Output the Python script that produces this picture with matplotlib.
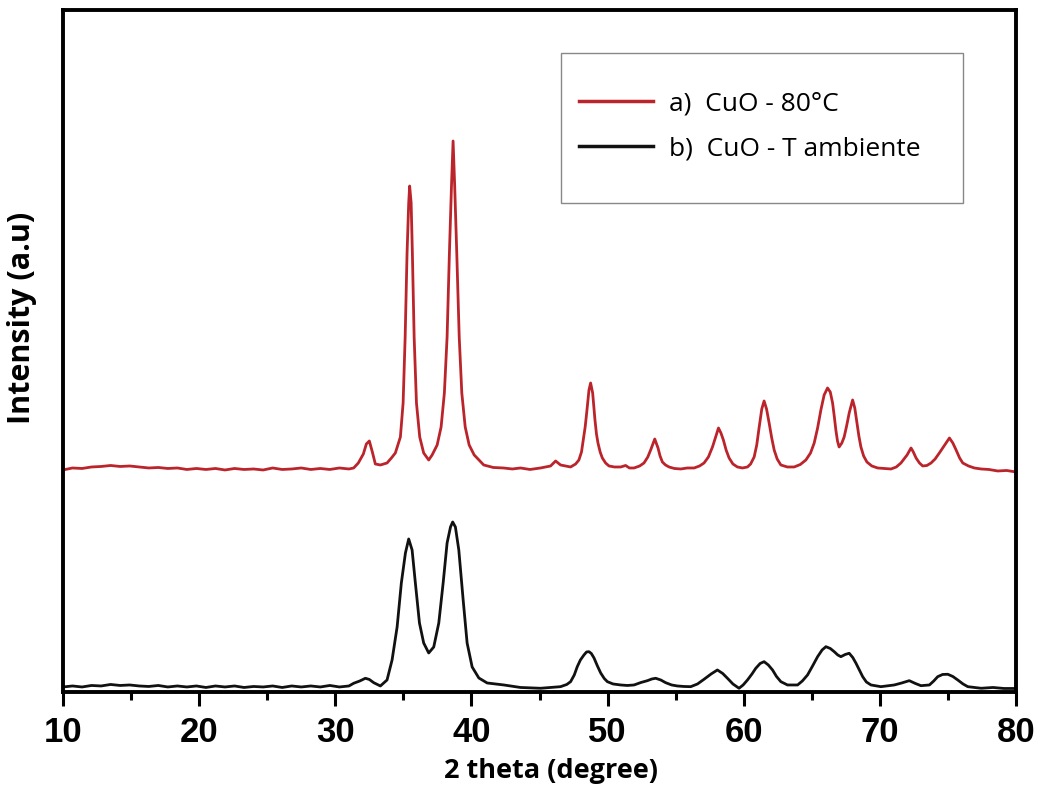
import numpy as np
import matplotlib.pyplot as plt
from matplotlib.patches import Rectangle

# XRD patterns, values (intensity in arbitrary units)
# flat background 10-31 deg
base_theta = [10.0, 10.7, 11.4, 12.1, 12.8, 13.5, 14.2, 14.9, 15.6, 16.3, 17.0, 17.7, 18.4,
              19.1, 19.8, 20.5, 21.2, 21.9, 22.6, 23.3, 24.0, 24.7, 25.4, 26.1, 26.8, 27.5,
              28.2, 28.9, 29.6, 30.3, 31.0]
base_a = [222, 224, 223.5, 225, 225.5, 226.5, 225.5, 226, 225, 224, 224.5, 223.5, 224,
          222.5, 223.5, 222.5, 223.5, 222, 223.5, 222.5, 223, 222, 224, 222.5, 223, 224,
          222.5, 223.5, 222.5, 224, 223]
base_b = [5, 6, 5, 6.5, 6, 7.5, 6.5, 7, 6, 5.5, 6.5, 5, 6,
          5, 6, 4.5, 6, 5, 6, 4.5, 5.5, 5, 6, 4.5, 6, 5,
          6, 5, 6.5, 5, 6]

# a) CuO - 80°C, 31-80 deg
peak_theta_a = [31.35, 31.69, 32.06, 32.28, 32.5, 32.72, 32.94, 33.31, 33.8, 34.12, 34.41, 34.78,
                34.98, 35.13, 35.27, 35.39, 35.46, 35.57, 35.66, 35.79, 35.96, 36.2, 36.49, 36.86,
                37.11, 37.48, 37.77, 38.01, 38.21, 38.38, 38.53, 38.65, 38.77, 38.92, 39.1, 39.29,
                39.54, 39.83, 40.2, 40.9, 41.6, 42.35, 43.0, 43.6, 44.3, 45.07, 45.81, 46.18,
                46.54, 47.28, 47.65, 47.89, 48.08, 48.21, 48.35, 48.46, 48.63, 48.75, 48.9, 49.07,
                49.18, 49.29, 49.45, 49.61, 49.85, 50.1, 50.5, 50.96, 51.32, 51.6, 51.94, 52.35,
                52.67, 52.95, 53.16, 53.46, 53.7, 53.85, 54.02, 54.25, 54.51, 54.9, 55.37, 55.85,
                56.35, 56.75, 57.08, 57.4, 57.7, 57.95, 58.14, 58.32, 58.5, 58.7, 58.92, 59.2,
                59.53, 59.9, 60.27, 60.5, 60.76, 60.95, 61.13, 61.32, 61.49, 61.67, 61.86, 62.05,
                62.23, 62.45, 62.72, 63.2, 63.7, 64.15, 64.56, 64.9, 65.17, 65.42, 65.66, 65.9,
                66.15, 66.35, 66.52, 66.65, 66.76, 66.88, 67.0, 67.2, 67.37, 67.55, 67.74, 67.99,
                68.15, 68.31, 68.45, 68.6, 68.8, 69.04, 69.4, 69.83, 70.3, 70.81, 71.2, 71.54,
                71.99, 72.28, 72.45, 72.65, 72.9, 73.14, 73.45, 73.75, 74.05, 74.36, 74.75, 75.1,
                75.35, 75.59, 75.85, 76.08, 76.5, 76.93, 77.43, 78.0, 78.65, 79.3, 80.0]
peak_int_a = [224, 229, 238, 248, 251, 240, 228, 227, 229, 234, 239, 255,
              289, 355, 439, 489, 506, 489, 439, 355, 289, 255, 239, 232,
              237, 247, 265, 299, 355, 439, 505, 551, 505, 439, 355, 299,
              265, 247, 237, 227, 224.5, 224, 223, 224, 222.5, 224, 226, 231,
              227, 225, 228, 232, 240, 252, 265, 279, 302, 309, 299, 272,
              258, 249, 240, 234, 229, 226, 225, 225, 226.5, 224, 224, 226,
              229, 235, 242, 253, 244, 236, 230, 227, 225, 223.5, 223, 224,
              224, 226, 229, 235, 245, 256, 264, 259, 252, 242, 234, 228,
              225, 224, 225, 228, 235, 247, 265, 283, 291, 283, 269, 254,
              242, 233, 227, 225, 225, 227.5, 232, 239, 249, 264, 282, 297,
              304, 300, 289, 275, 262, 251, 245, 249, 255, 266, 279, 292,
              284, 269, 256, 245, 236, 230, 226, 224, 223.5, 223, 225, 229,
              237, 244, 240, 234, 229, 226, 226.5, 229, 233, 239, 247, 254,
              249, 242, 234, 229, 226, 224, 223, 222.5, 221, 221.5, 220]

# b) CuO - T ambiente, 31-80 deg
peak_theta_b = [31.35, 31.8, 32.21, 32.5, 32.82, 33.31, 33.8, 34.17, 34.54, 34.85, 35.15, 35.39,
                35.64, 35.88, 36.18, 36.49, 36.86, 37.23, 37.6, 37.92, 38.21, 38.46, 38.62, 38.82,
                39.07, 39.39, 39.68, 40.05, 40.54, 41.15, 42.38, 43.6, 45.07, 46.54, 47.0, 47.28,
                47.55, 47.77, 48.0, 48.26, 48.45, 48.63, 48.8, 49.0, 49.25, 49.49, 49.75, 49.98,
                50.4, 50.96, 51.45, 51.94, 52.45, 52.92, 53.25, 53.53, 53.9, 54.26, 54.7, 55.12,
                55.6, 56.1, 56.6, 57.08, 57.6, 58.06, 58.45, 58.8, 59.2, 59.65, 59.95, 60.27,
                60.6, 60.88, 61.2, 61.49, 61.8, 62.11, 62.4, 62.72, 63.21, 63.95, 64.3, 64.68,
                65.05, 65.42, 65.75, 66.03, 66.35, 66.64, 66.9, 67.13, 67.45, 67.74, 68.0, 68.24,
                68.5, 68.73, 69.0, 69.34, 70.07, 71.05, 71.6, 72.15, 72.6, 73.01, 73.63, 73.95,
                74.24, 74.6, 74.98, 75.35, 75.71, 76.1, 76.45, 77.43, 78.3, 79.1, 80.0]
peak_int_b = [8.7, 11, 13.7, 12.5, 9.3, 6, 12, 32, 65, 109, 139, 153,
              142, 109, 69, 49, 39, 45, 69, 109, 149, 165, 170, 165,
              142, 92, 49, 25, 14, 9, 7, 4.5, 3.7, 5.3, 7.5, 10.3,
              17, 25.3, 32, 37, 40, 40.3, 38.5, 34, 26, 19, 13.5, 10.3,
              8, 7, 6.5, 7, 9.5, 11.3, 13, 13.7, 12, 9.3, 7, 6,
              5.5, 5.3, 8, 12.7, 18, 22, 18.5, 13.7, 8, 3.7, 7, 12,
              18, 23.7, 28.5, 30.3, 27, 22, 15.5, 10.3, 7, 7, 11, 17,
              26, 35.3, 42, 45.3, 43.5, 40.3, 37, 35.3, 37.5, 38.7, 34.5, 28.7,
              21.5, 15.3, 10, 7, 5.3, 7, 9, 11.3, 8.5, 6.3, 7, 11,
              15.3, 17.5, 17.7, 15.5, 12, 8, 5.3, 3.7, 4.5, 3.5, 3.5]

labels = ['a)  CuO - 80°C', 'b)  CuO - T ambiente']
colors = ['#bb242b', '#111111']

theta_a = base_theta + peak_theta_a
int_a = base_a + peak_int_a
theta_b = base_theta + peak_theta_b
int_b = base_b + peak_int_b

fig = plt.figure(figsize=(10.39, 7.92), dpi=100)
ax = fig.add_axes([0.0606, 0.1263, 0.9174, 0.8617])

ax.plot(theta_a, int_a, color=colors[0], lw=2, label=labels[0])
ax.plot(theta_b, int_b, color=colors[1], lw=2, label=labels[1])

ax.set_xlim(10, 80)
ax.set_ylim(0, 682.5)
ax.set_xticks(np.arange(10, 81, 10))
ax.set_xticks(np.arange(15, 80, 10), minor=True)
ax.set_yticks([])
for s in ax.spines.values():
    s.set_linewidth(2.8)
ax.tick_params(axis='x', which='major', direction='out', length=10, width=2.2, pad=7)
ax.tick_params(axis='x', which='minor', direction='out', length=6, width=2.2)
for t in ax.get_xticklabels():
    t.set_fontfamily('Liberation Sans')
    t.set_fontweight('bold')
    t.set_fontsize(25)

ax.set_xlabel('2 theta (degree)', fontfamily='Open Sans', fontweight='bold', fontsize=19.5)
ax.xaxis.set_label_coords(0.5115, -0.097)
ax.set_ylabel('Intensity (a.u)', fontfamily='Open Sans', fontweight='bold', fontsize=22)
ax.yaxis.set_label_coords(-0.027, 0.548)

# legend box
ax.add_patch(Rectangle((0.5226, 0.7165), 0.4218, 0.2198, transform=ax.transAxes,
                       fill=False, edgecolor='#888888', lw=1))
leg = ax.legend(loc='center left', bbox_to_anchor=(0.5415, 0.8286), frameon=False,
                borderpad=0, borderaxespad=0, handlelength=2.8, handletextpad=0.6,
                labelspacing=0.76, prop={'family': 'Open Sans', 'size': 19})
for ln in leg.get_lines():
    ln.set_linewidth(2.5)

fig.savefig('out.png', dpi=100)
